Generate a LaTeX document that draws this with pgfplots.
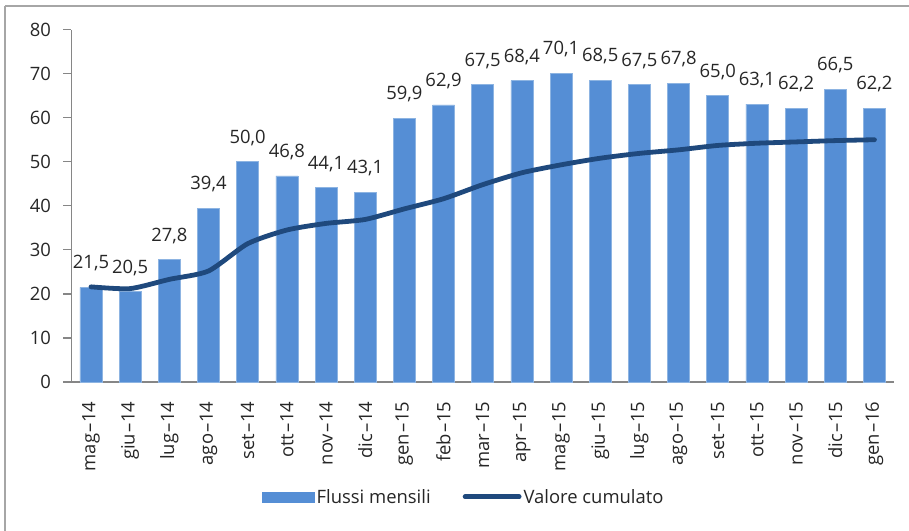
\documentclass[border=0pt]{standalone}
\usepackage{pgfplots}
\pgfplotsset{compat=1.18}
\usepackage{fontspec}
\setmainfont{Open Sans}
\definecolor{barblue}{HTML}{558ED5}
\definecolor{baredge}{HTML}{8DB4E2}
\definecolor{linenavy}{HTML}{1F497D}
\definecolor{axisgray}{HTML}{868686}
\definecolor{framegray}{HTML}{A6A6A6}
\definecolor{txt}{HTML}{262626}
\newcommand{\dd}{\kern1bp\textendash\kern1bp}

\pgfplotstableread{
x  flussi cumul
0  21.5  21.6
1  20.5  21.2
2  27.8  23.3
3  39.4  25.2
4  50.0  31.4
5  46.8  34.5
6  44.1  36.0
7  43.1  36.9
8  59.9  39.3
9  62.9  41.6
10 67.5  44.8
11 68.4  47.5
12 70.1  49.3
13 68.5  50.8
14 67.5  51.9
15 67.8  52.7
16 65.0  53.7
17 63.1  54.2
18 62.2  54.5
19 66.5  54.8
20 62.2  55.0
}\datatable

\begin{document}
\begin{tikzpicture}[x=1bp,y=1bp]
\useasboundingbox (0,0) rectangle (909,531);
\draw[framegray, line width=1.5bp] (5,525) -- (915,525);
\draw[framegray, line width=1.5bp] (5,525) -- (5,-5);
\begin{axis}[
  at={(71.4bp,149bp)}, anchor=south west,
  scale only axis, width=822.6bp, height=352.4bp,
  xmin=-0.5, xmax=20.5, ymin=0, ymax=80,
  ytick={0,10,...,80},
  xtick={0,...,20},
  xticklabels={mag\dd14,giu\dd14,lug\dd14,ago\dd14,set\dd14,ott\dd14,nov\dd14,dic\dd14,gen\dd15,feb\dd15,mar\dd15,apr\dd15,mag\dd15,giu\dd15,lug\dd15,ago\dd15,set\dd15,ott\dd15,nov\dd15,dic\dd15,gen\dd16},
  minor xtick={-0.5,0.5,...,20.5},
  axis x line*=bottom, axis y line*=left,
  axis line style={axisgray, line width=1.3bp, -},
  tick align=outside,
  major tick length=8bp, minor tick length=7bp,
  tick style={axisgray, line width=1.3bp},
  xtick style={draw=none},
  minor tick style={draw=axisgray, line width=1.3bp},
  /pgf/number format/assume math mode=true,
  ticklabel style={font=\fontsize{18.5}{21}\selectfont, text=txt},
  yticklabel style={anchor=east, xshift=-9bp},
  xticklabel style={rotate=90, anchor=east, yshift=0bp, xshift=-8bp},
  legend columns=2,
  legend style={at={(0.477,-0.326)}, anchor=center, draw=none, fill=none,
    font=\fontsize{18.5}{21}\selectfont, text=txt,
    /tikz/every even column/.append style={column sep=30bp},
    inner sep=0pt},
  clip=false,
]
\addplot[ybar, bar width=22bp, fill=barblue, draw=baredge, line width=0.6bp, bar shift=0pt,
  legend image code/.code={\fill[barblue] (0bp,-5bp) rectangle (52bp,5bp);},
  nodes near coords={\pgfmathprintnumber[fixed, fixed zerofill, precision=1, use comma]{\pgfplotspointmeta}},
  nodes near coords style={font=\fontsize{18.5}{21}\selectfont, text=txt, anchor=center, yshift=24bp}]
  table[x=x, y=flussi] {\datatable};
\addlegendentry{Flussi mensili}
\addplot[linenavy, line width=4.8bp, smooth, tension=0.4, line cap=round, line join=round, mark=none,
  legend image code/.code={\draw[linenavy, line width=4.8bp, line cap=round] (0bp,0bp) -- (54bp,0bp);}]
  table[x=x, y=cumul] {\datatable};
\addlegendentry{Valore cumulato}
\end{axis}
\end{tikzpicture}
\end{document}
